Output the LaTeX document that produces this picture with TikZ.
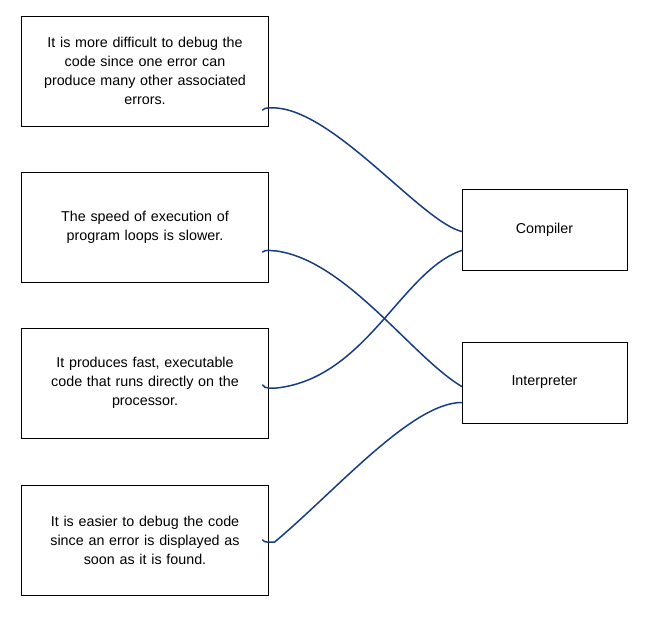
\documentclass[tikz,border=0pt]{standalone}
\usepackage{fontspec}
\setmainfont{Liberation Sans}
\usetikzlibrary{positioning}
\definecolor{inkblue}{RGB}{22,62,128}
\tikzset{
    reason/.style={rectangle, draw, line width=0.6pt, minimum width=246pt, minimum height=110pt, text width=240pt, align=center, font=\fontsize{14.3}{19}\selectfont},
    kind/.style={rectangle, draw, line width=0.6pt, minimum width=165pt, minimum height=81pt, align=center, font=\fontsize{14.3}{19}\selectfont},
    link/.style={inkblue, line width=1.5pt, line cap=round},
}
\begin{document}
\begin{tikzpicture}[x=1pt, y=-1pt]
    \useasboundingbox (0,0) rectangle (654,626);
    % reasons
    \node[reason] (easy) at (145,71) {It is more difficult to debug the\\code since one error can\\produce many other associated\\errors.};
    \node[reason] (slow) at (145,227) {The speed of execution of\\program loops is slower.};
    \node[reason] (fast) at (145,383) {It produces fast, executable\\code that runs directly on the\\processor.};
    \node[reason] (found) at (145,540) {It is easier to debug the code\\since an error is displayed as\\soon as it is found.};

    % translators
    \node[kind] (comp) at (544.5,229.5) {Compiler};
    \node[kind] (interp) at (544.5,382.5) {Interpreter};

    % links
    \draw[link] ([xshift=-6pt,yshift=-39pt]easy.east) .. controls ++(2,-3) and ++(-5,0) .. ++(14,-2)
        .. controls ++(60,5) and ++(-40,-10) .. ([yshift=-2pt]comp.west);
    \draw[link] ([xshift=-6pt,yshift=-25pt]slow.east) .. controls ++(3,-3) and ++(-5,0) .. ++(14,-1)
        .. controls ++(70,10) and ++(-50,-30) .. ([yshift=-4pt]interp.west);
    \draw[link] ([xshift=-6pt,yshift=-2pt]fast.east) .. controls ++(2,4) and ++(-5,0) .. ++(14,3)
        .. controls ++(90,-10) and ++(-60,20) .. ([yshift=-21pt]comp.west);
    \draw[link] ([xshift=-6pt,yshift=0pt]found.east) .. controls ++(2,3) and ++(-5,0) .. ++(12,2)
        .. controls ++(60,-50) and ++(-50,0) .. ([yshift=-20pt]interp.west);
\end{tikzpicture}
\end{document}
